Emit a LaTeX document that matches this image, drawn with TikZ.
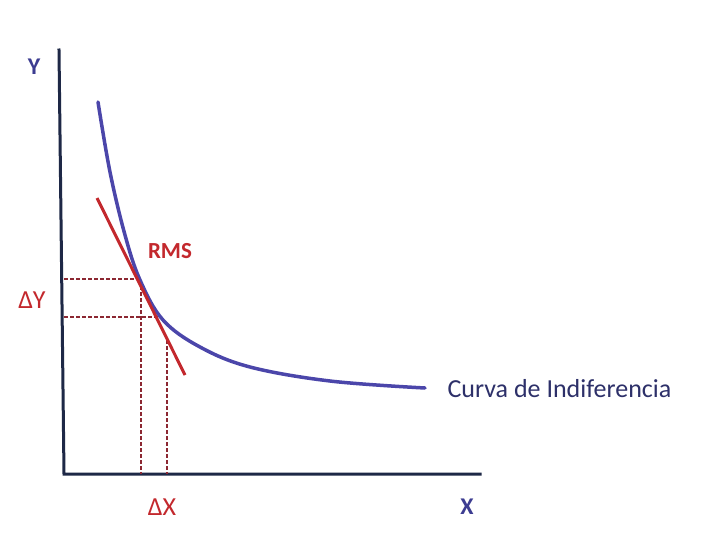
\documentclass[tikz,border=0pt]{standalone}
\usepackage{fontspec}
\setmainfont{Carlito}
\definecolor{axiscol}{RGB}{30,40,70}
\definecolor{curvecol}{RGB}{75,70,170}
\definecolor{redcol}{RGB}{195,40,45}
\definecolor{dashcol}{RGB}{140,40,50}
\definecolor{labcol}{RGB}{60,60,145}
\definecolor{textcol}{RGB}{45,48,105}
\tikzset{
  axis/.style={draw=axiscol, line width=3pt},
  icurve/.style={draw=curvecol, line width=3.5pt},
  tangent/.style={draw=redcol, line width=3pt},
  guide/.style={draw=dashcol, line width=1.1pt, dash pattern=on 4pt off 2pt},
  axlab/.style={text=labcol, font=\bfseries\fontsize{24}{26}\selectfont},
  redlab/.style={text=redcol, font=\fontsize{26}{28}\selectfont},
}
\begin{document}
\begin{tikzpicture}[x=1pt,y=-1pt]
\path[fill=white] (0,0) rectangle (702,536);
\useasboundingbox (0,0) rectangle (702,536);
% axes
\coordinate (ytop) at (59,50);
\coordinate (orig) at (64,474);
\coordinate (xend) at (480,474);
\draw[axis, line cap=rect] (ytop) -- (orig) -- (xend);
% guide lines
\coordinate (p1) at (141,279);
\coordinate (p2) at (160,317);
\coordinate (q2) at (167,340);
\coordinate (ya) at (64,279);
\coordinate (yb) at (64,317);
\coordinate (xa) at (141,474);
\coordinate (xb) at (167,474);
\draw[guide] (ya) -- (p1) -- (xa);
\draw[guide] (yb) -- (p2);
\draw[guide] (q2) -- (xb);
% curve
\draw[icurve, line cap=round] plot[smooth, tension=0.6] coordinates {(98,102) (110,172) (125,235) (140,280) (163,320) (200,347) (250,367) (330,381) (425,388)};
% tangent
\coordinate (t1) at (97,198);
\coordinate (t2) at (185,375);
\draw[tangent] (t1) -- (t2);
% labels
\node[axlab] (ylab) at (34,67) {Y};
\node[axlab] (xlab) at (467,507) {X};
\node[redlab] (dy) at (32,300) {ΔY};
\node[redlab] (dx) at (162,507) {ΔX};
\node[redlab, font=\bfseries\fontsize{23}{25}\selectfont] (rms) at (170,251) {RMS};
\node[text=textcol, font=\fontsize{26}{28}\selectfont, anchor=west] (ci) at (444,389) {Curva de Indiferencia};
\end{tikzpicture}
\end{document}
